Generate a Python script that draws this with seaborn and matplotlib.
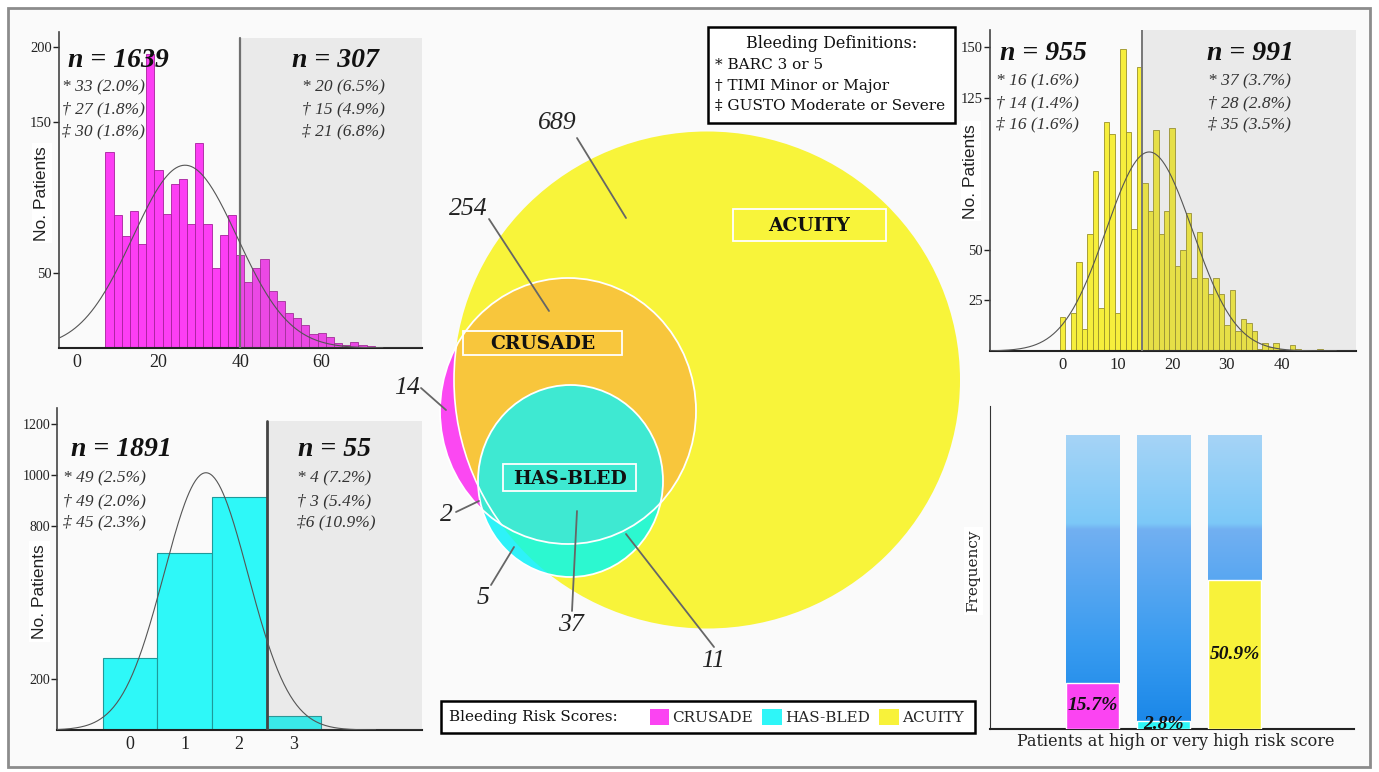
import numpy as np
import pandas as pd
import matplotlib
matplotlib.use('Agg')
import matplotlib.pyplot as plt
import seaborn as sns
from matplotlib.patches import Ellipse, Rectangle, Patch
from matplotlib.colors import LinearSegmentedColormap

# ---------------- data ----------------
n_total = 1946

# CRUSADE histogram (bins of width 2)
crusade_bins = list(range(7, 75, 2))
crusade_scores = list(range(8, 74, 2))
crusade_counts = [130, 88, 74, 91, 69, 195, 118, 89, 109, 112, 82, 136, 82, 53,
                  75, 88, 62, 44, 53, 59, 38, 31, 23, 20, 15, 9, 10, 7, 3, 2, 4, 2, 1]
crusade_cut = 40
crusade_mean, crusade_sd = 26.5, 12.8

# ACUITY histogram (integer scores)
acuity_scores = list(range(0, 48))
acuity_counts = [17, 0, 19, 44, 11, 58, 89, 21, 113, 107,
                 19, 149, 108, 60, 140, 83, 69, 109, 58, 69,
                 110, 42, 50, 68, 36, 59, 36, 28, 36, 28,
                 13, 30, 10, 16, 14, 10, 1, 4, 2, 4,
                 1, 0, 3, 1, 0, 0, 0, 1]
acuity_cut = 14.5
acuity_mean, acuity_sd = 15.8, 7.9

# HAS-BLED histogram
hasbled_scores = [0, 1, 2, 3]
hasbled_counts = [283, 695, 913, 55]
hasbled_cut = 2.5
hasbled_mean, hasbled_sd = 1.39, 0.77

# group annotations
crusade_n = ['n = 1639', 'n = 307']
crusade_low = ['* 33 (2.0%)', '† 27 (1.8%)', '‡ 30 (1.8%)']
crusade_high = ['* 20 (6.5%)', '† 15 (4.9%)', '‡ 21 (6.8%)']
acuity_n = ['n = 955', 'n = 991']
acuity_low = ['* 16 (1.6%)', '† 14 (1.4%)', '‡ 16 (1.6%)']
acuity_high = ['* 37 (3.7%)', '† 28 (2.8%)', '‡ 35 (3.5%)']
hasbled_n = ['n = 1891', 'n = 55']
hasbled_low = ['* 49 (2.5%)', '† 49 (2.0%)', '‡ 45 (2.3%)']
hasbled_high = ['* 4 (7.2%)', '† 3 (5.4%)', '‡6 (10.9%)']

# Venn region counts
venn_counts = [689, 254, 14, 2, 5, 37, 11]

# high-risk share per score
risk_scores = ['CRUSADE', 'HAS-BLED', 'ACUITY']
high_risk_pct = [15.7, 2.8, 50.9]
score_colors = ['#fb44f2', '#2ef6f8', '#f8f23a']

definitions = ['* BARC 3 or 5', '† TIMI Minor or Major', '‡ GUSTO Moderate or Severe']

# ---------------- layout helpers ----------------
W, H = 1379, 772


def box(l, t, r, b):
    return [l / W, 1 - b / H, (r - l) / W, (b - t) / H]


def fx(x):
    return x / W


def fy(y):
    return 1 - y / H


sns.set_style('white')
plt.rcParams['font.family'] = ['Liberation Serif', 'DejaVu Serif']

fig = plt.figure(figsize=(13.79, 7.72), dpi=100, facecolor='white')
fig.patches.append(Rectangle((fx(8), fy(767)), fx(1370) - fx(8), fy(8) - fy(767),
                             transform=fig.transFigure, fc='#fafafa', ec='#8c8c8c',
                             lw=2, zorder=-10))


def style_hist(ax, xlim, ylim, xticks, yticks, xsize, ysize):
    ax.set_facecolor('#fafafa')
    ax.set_xlim(*xlim)
    ax.set_ylim(*ylim)
    ax.set_xticks(xticks)
    ax.set_yticks(yticks)
    for s in ['top', 'right']:
        ax.spines[s].set_visible(False)
    ax.spines['left'].set_color('#444')
    ax.spines['left'].set_linewidth(1.2)
    ax.spines['bottom'].set_color('#222')
    ax.spines['bottom'].set_linewidth(1.5)
    ax.tick_params(axis='x', length=0, labelsize=xsize, pad=4, colors='#222')
    ax.tick_params(axis='y', length=4, width=1, labelsize=ysize, pad=1, colors='#222',
                   left=True)
    ax.set_xlabel('')
    ax.set_ylabel('No. Patients', fontfamily='Liberation Sans', fontsize=12.5,
                  color='#222', bbox=dict(fc='white', ec='none', pad=2))


def add_fit(ax, mean, sd, bw, x_end):
    xs = np.linspace(ax.get_xlim()[0], x_end, 300)
    ys = n_total * bw * np.exp(-0.5 * ((xs - mean) / sd) ** 2) / (sd * np.sqrt(2 * np.pi))
    ax.plot(xs, ys, color='#555', lw=0.8, zorder=6)


def add_cut(ax, cut, top, lc, lw):
    ax.axvspan(cut, ax.get_xlim()[1], ymin=0, ymax=top, color='#8a8a8a', alpha=0.14,
               lw=0, zorder=4)
    ax.axvline(cut, ymin=0, ymax=top, color=lc, lw=lw, zorder=5)


def add_group_text(nx, lx, ny, ys, n_label, lines):
    fig.text(fx(nx), fy(ny), n_label, ha='center', va='baseline', fontsize=20,
             fontweight='bold', fontstyle='italic', color='#111')
    for y, t in zip(ys, lines):
        fig.text(fx(lx), fy(y), t, ha='left', va='baseline', fontsize=12.5,
                 fontstyle='italic', color='#333')


# ---------------- CRUSADE (top left) ----------------
ax1 = fig.add_axes(box(59, 32, 422, 348))
sns.histplot(x=crusade_scores, weights=crusade_counts, bins=crusade_bins, ax=ax1,
             color='#fc3ef4', edgecolor='#a6229c', linewidth=0.6, alpha=1)
style_hist(ax1, (-4.4, 84.6), (0, 209.7), [0, 20, 40, 60], [50, 150, 200], 13, 10.5)
add_cut(ax1, crusade_cut, 0.98, '#707070', 1.6)
add_fit(ax1, crusade_mean, crusade_sd, 2, 75)
ax1.yaxis.set_label_coords(-0.047, 0.49)
ax1.yaxis.label.set_va('center')
add_group_text(118, 62, 67, [91.5, 113.5, 135], crusade_n[0], crusade_low)
add_group_text(335, 302, 67, [91.5, 113.5, 135], crusade_n[1], crusade_high)

# ---------------- HAS-BLED (bottom left) ----------------
ax2 = fig.add_axes(box(57, 408, 422, 730))
sns.histplot(x=hasbled_scores, weights=hasbled_counts, discrete=True, ax=ax2,
             color='#2ef8f8', edgecolor='#1e9a9a', linewidth=0.8, alpha=1)
style_hist(ax2, (-1.34, 5.35), (0, 1262), [0, 1, 2, 3], [200, 800, 1000, 1200], 13, 10)
add_cut(ax2, hasbled_cut, 0.96, '#444', 2)
add_fit(ax2, hasbled_mean, hasbled_sd, 1, 4.5)
ax2.yaxis.set_label_coords(-0.048, 0.43)
ax2.yaxis.label.set_va('center')
add_group_text(121, 63, 456, [482.5, 505, 526], hasbled_n[0], hasbled_low)
add_group_text(334, 297, 456, [482.5, 505, 526], hasbled_n[1], hasbled_high)

# ---------------- ACUITY (top right) ----------------
ax3 = fig.add_axes(box(990, 30, 1356, 351))
sns.histplot(x=acuity_scores, weights=acuity_counts, discrete=True, ax=ax3,
             color='#f6ee3c', edgecolor='#9a9228', linewidth=0.6, alpha=1)
style_hist(ax3, (-13.3, 53.6), (0, 158.5), [0, 10, 20, 30, 40], [25, 50, 125, 150], 12, 10.5)
add_cut(ax3, acuity_cut, 1.0, '#777', 1.4)
add_fit(ax3, acuity_mean, acuity_sd, 1, 50)
ax3.yaxis.set_label_coords(-0.052, 0.56)
ax3.yaxis.label.set_va('center')
add_group_text(1043, 996, 60, [85.5, 107, 128], acuity_n[0], acuity_low)
add_group_text(1250, 1208, 60, [85.5, 107, 128], acuity_n[1], acuity_high)

# ---------------- high-risk share (bottom right) ----------------
ax4 = fig.add_axes(box(990, 406, 1354, 729))
df = pd.DataFrame({'score': risk_scores, 'total': [100, 100, 100], 'pct': high_risk_pct})
sns.barplot(data=df, x='score', y='total', ax=ax4, width=0.75, color='#5aa8f0')
bg_patches = list(ax4.patches)
sns.barplot(data=df, x='score', y='pct', hue='score', palette=score_colors, ax=ax4,
            width=0.75, dodge=False, legend=False, saturation=1, zorder=3)
fg_patches = [p for p in ax4.patches if p not in bg_patches]

blue = LinearSegmentedColormap.from_list(
    'bar_blue', [(0, '#1886e8'), (0.3, '#3a9cf0'), (0.68, '#72b0f2'),
                 (0.70, '#7cc8f8'), (1, '#a6d4f6')])
grad = np.linspace(0, 1, 256).reshape(-1, 1)
for p in bg_patches:
    x0, w, h = p.get_x(), p.get_width(), p.get_height()
    ax4.imshow(grad, cmap=blue, origin='lower', aspect='auto', zorder=2,
               extent=(x0, x0 + w, 0, h), interpolation='bilinear')
    p.set_facecolor('none')
    p.set_edgecolor('none')
for p, v in zip(fg_patches, high_risk_pct):
    ax4.text(p.get_x() + p.get_width() / 2, p.get_height() / 2, f'{v}%',
             ha='center', va='center', fontsize=14, fontweight='bold',
             fontstyle='italic', color='#111', zorder=6)

ax4.set_xlim(-1.45, 3.68)
ax4.set_ylim(0, 110)
ax4.set_facecolor('#fafafa')
ax4.set_xticks([])
ax4.set_yticks([])
for s in ['top', 'right']:
    ax4.spines[s].set_visible(False)
ax4.spines['left'].set_color('#333')
ax4.spines['bottom'].set_color('#222')
ax4.spines['bottom'].set_linewidth(1.5)
ax4.set_ylabel('Frequency', fontfamily='DejaVu Serif', fontsize=11, color='#222',
               bbox=dict(fc='white', ec='none', pad=2))
ax4.yaxis.set_label_coords(-0.045, 0.49)
ax4.yaxis.label.set_va('center')
ax4.set_xlabel('Patients at high or very high risk score', fontfamily='DejaVu Serif',
               fontsize=11.5, color='#222')
ax4.xaxis.set_label_coords(0.51, -0.04)
ax4.xaxis.label.set_va('center')

# ---------------- Venn diagram (centre) ----------------
axv = fig.add_axes(box(400, 100, 965, 700))
axv.set_xlim(400, 965)
axv.set_ylim(700, 100)
axv.axis('off')

# circle geometry: (centre, width, height) in figure pixels
acuity_geo = ((707, 380), 506, 497)
crusade_geo = ((568, 411), 256, 266)
hasbled_geo = ((570.5, 481), 185, 192)


def venn_shape(geo, fc, z, ec='none', lw=0):
    e = Ellipse(geo[0], geo[1], geo[2], fc=fc, ec=ec, lw=lw, zorder=z)
    axv.add_patch(e)
    return e


acuity_c = venn_shape(acuity_geo, '#f8f43a', 1)
crusade_c = venn_shape(crusade_geo, '#fb48f2', 2)
venn_shape(crusade_geo, '#f8c63c', 3).set_clip_path(acuity_c)
venn_shape(hasbled_geo, '#2ef2f8', 4)
venn_shape(hasbled_geo, '#2cf8d0', 5).set_clip_path(acuity_c)
venn_shape(hasbled_geo, '#3ee9d2', 6).set_clip_path(crusade_c)
venn_shape(acuity_geo, 'none', 7, 'white', 1.2).set_clip_path(crusade_c)
venn_shape(crusade_geo, 'none', 7, 'white', 1.3)
venn_shape(hasbled_geo, 'none', 7, 'white', 1.3)

for (l, t, r, b), name in zip([(463, 331, 622, 355), (503, 464, 636, 491),
                               (733, 209, 886, 241)], risk_scores):
    axv.add_patch(Rectangle((l, t), r - l, b - t, fc='none', ec='white', lw=1.3, zorder=8))
    axv.text((l + r) / 2, (t + b) / 2 + 1, name, ha='center', va='center',
             fontfamily='DejaVu Serif', fontweight='bold', fontsize=13.5,
             color='#111', zorder=9)

venn_label_pos = [(557, 123), (468, 209), (407, 388), (446, 515), (483, 598),
                  (571, 625), (713, 661)]
venn_leaders = [((577, 138), (626, 218)), ((489, 219), (549, 311)),
                ((421, 388), (446, 410)), ((456, 512), (479, 501)),
                ((491, 585), (514, 547)), ((572, 611), (577, 511)),
                ((714, 647), (626, 534))]
for v, (tx, ty), ((x1, y1), (x2, y2)) in zip(venn_counts, venn_label_pos, venn_leaders):
    axv.plot([x1, x2], [y1, y2], color='#666', lw=1.3, zorder=10)
    axv.text(tx, ty, str(v), ha='center', va='center', fontsize=18.5,
             fontstyle='italic', color='#222', zorder=10)

# ---------------- definitions box ----------------
fig.patches.append(Rectangle((fx(708), fy(123)), fx(955) - fx(708), fy(27) - fy(123),
                             transform=fig.transFigure, fc='white', ec='black', lw=1.8,
                             zorder=1))
fig.text(fx(832), fy(43), 'Bleeding Definitions:', ha='center', va='center',
         fontfamily='DejaVu Serif', fontsize=11.5, color='#111')
for y, t in zip([65, 86, 106], definitions):
    fig.text(fx(715), fy(y), t, ha='left', va='center', fontfamily='DejaVu Serif',
             fontsize=11, color='#111')

# ---------------- bottom legend ----------------
fig.patches.append(Rectangle((fx(441), fy(733)), fx(975) - fx(441), fy(701) - fy(733),
                             transform=fig.transFigure, fc='white', ec='black', lw=1.8,
                             zorder=1))
fig.text(fx(449), fy(717), 'Bleeding Risk Scores:', ha='left', va='center',
         fontfamily='DejaVu Serif', fontsize=11, color='#111')
handles = [Patch(fc=c, ec='none') for c in score_colors]
fig.legend(handles, risk_scores, loc='center left', bbox_to_anchor=(fx(642), fy(717)),
           ncol=3, frameon=False, borderpad=0, handlelength=1.25, handleheight=1.3,
           handletextpad=0.25, columnspacing=0.6,
           prop={'family': 'DejaVu Serif', 'size': 11})

fig.savefig('out.png', dpi=100, facecolor='white')
